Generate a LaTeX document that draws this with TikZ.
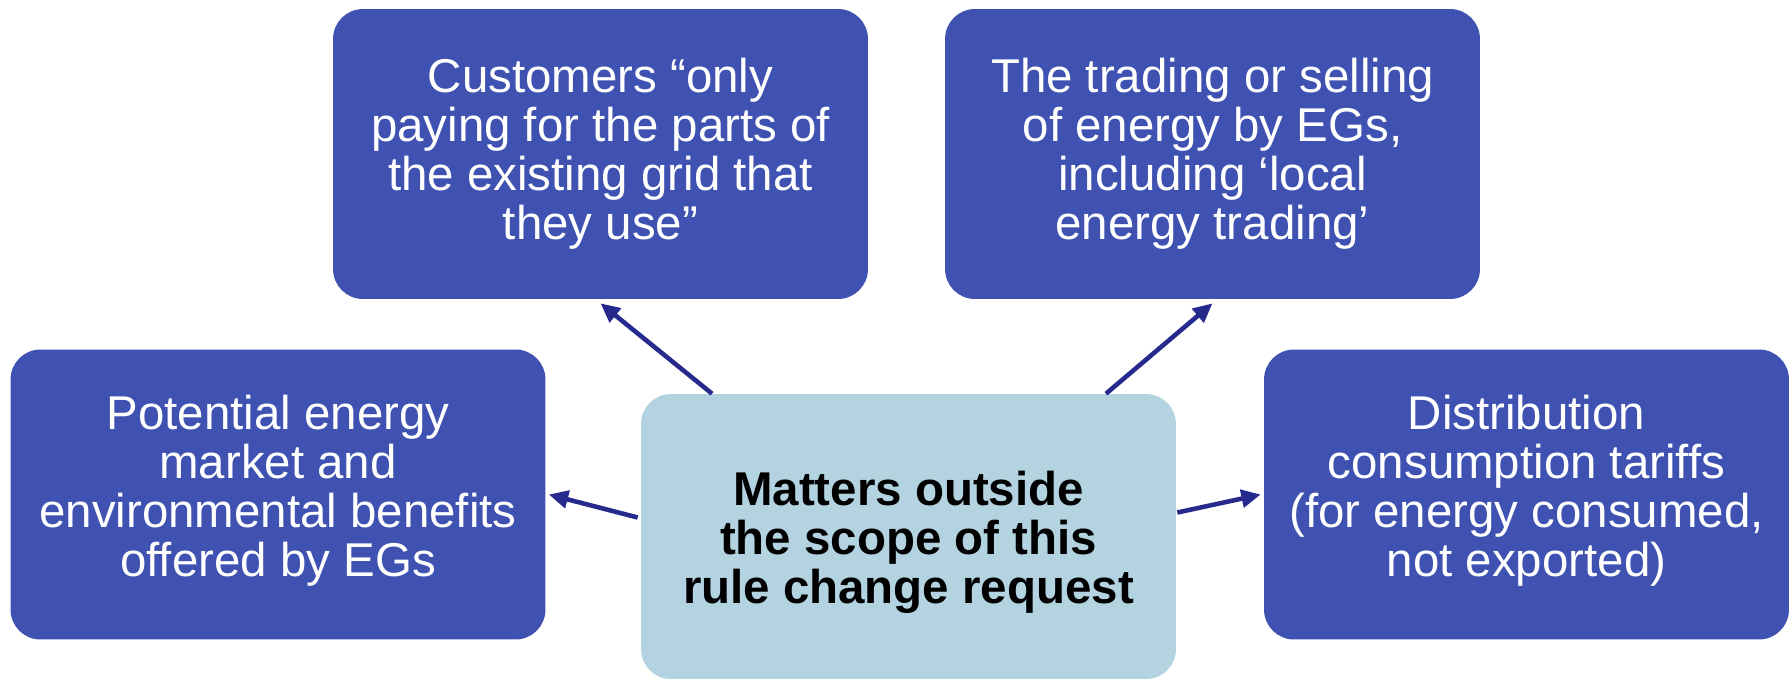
\documentclass[tikz,border=0pt]{standalone}
\usepackage{fontspec}
\setmainfont{Liberation Sans}
\usetikzlibrary{arrows.meta}
\definecolor{outblue}{RGB}{63,82,177}
\definecolor{scopeblue}{RGB}{179,211,224}
\definecolor{linknavy}{RGB}{38,42,140}
\tikzset{
  outbox/.style={rectangle,rounded corners=17pt,fill=outblue,text=white,
    align=center,inner sep=0pt,minimum width=10.7cm,minimum height=5.8cm,
    font=\fontsize{27}{27.9}\selectfont},
  scopebox/.style={rectangle,rounded corners=17pt,fill=scopeblue,text=black,
    align=center,inner sep=0pt,minimum width=10.7cm,minimum height=5.7cm,
    font=\fontsize{27}{27.9}\selectfont\bfseries},
  link/.style={-{Triangle[length=11pt,width=10pt]},line width=2.6pt,draw=linknavy}
}

\begin{document}
\begin{tikzpicture}[x=0.02cm,y=-0.02cm]
\useasboundingbox (0,0) rectangle (1790,680);

% Outer topics
\node[outbox] (cust) at (600.5,154) {Customers “only\\paying for the parts of\\the existing grid that\\they use”};
\node[outbox] (trade) at (1212.5,154) {The trading or selling\\of energy by EGs,\\including ‘local\\energy trading’};
\node[outbox] (benefit) at (278,494.5) {Potential energy\\market and\\environmental benefits\\offered by EGs\rule[-10.3pt]{0pt}{1pt}};
\node[outbox,minimum width=10.5cm] (tariff) at (1526.5,494.5) {Distribution\\consumption tariffs\\(for energy consumed,\\not exported)\rule[-10.3pt]{0pt}{1pt}};

% Central box
\node[scopebox] (scope) at (908.5,536.5) {\rule{0pt}{26pt}Matters outside\\the scope of this\\rule change request};

% Links out of the centre
\draw[link] ([xshift=-3.93cm]scope.north) -- ([yshift=-0.08cm]cust.south);
\draw[link] ([xshift=3.95cm]scope.north) -- ([yshift=-0.08cm]trade.south);
\draw[link] ([xshift=-0.06cm,yshift=0.38cm]scope.west) -- ([xshift=0.06cm]benefit.east);
\draw[link] ([xshift=0.02cm,yshift=0.48cm]scope.east) -- ([xshift=-0.06cm]tariff.west);

\end{tikzpicture}
\end{document}
